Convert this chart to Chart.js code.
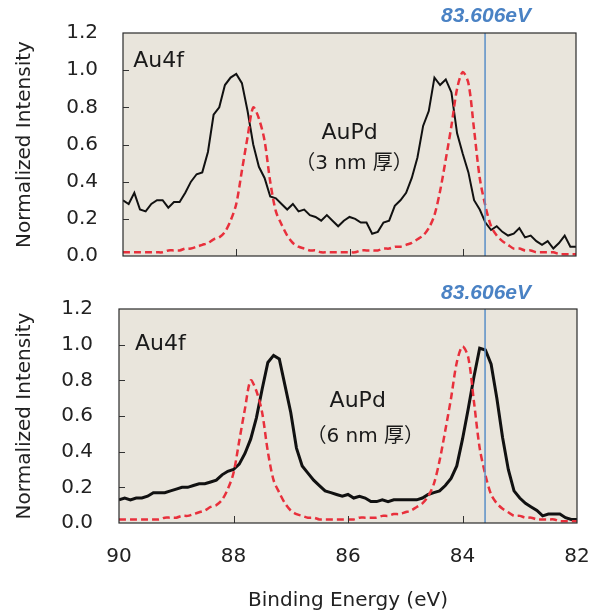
<!DOCTYPE html>
<html>
<head>
<meta charset="utf-8">
<script src="https://cdn.jsdelivr.net/npm/chart.js@4.4.1/dist/chart.umd.min.js"></script>
<style>
  body { margin: 0; background: #fff; }
  #wrap { position: relative; width: 600px; height: 615px; }
  canvas { position: absolute; left: 0; }
</style>
</head>
<body>
<div id="wrap">
  <canvas id="topChart" width="600" height="280" style="top:0"></canvas>
  <canvas id="botChart" width="600" height="335" style="top:280px"></canvas>
</div>
<script>
// binding energy (eV), one reading every 0.1 eV
const energy = [
  90.0, 89.9, 89.8, 89.7, 89.6, 89.5, 89.4, 89.3, 89.2, 89.1,
  89.0, 88.9, 88.8, 88.7, 88.6, 88.5, 88.4, 88.3, 88.2, 88.1,
  88.0, 87.9, 87.8, 87.7, 87.6, 87.5, 87.4, 87.3, 87.2, 87.1,
  87.0, 86.9, 86.8, 86.7, 86.6, 86.5, 86.4, 86.3, 86.2, 86.1,
  86.0, 85.9, 85.8, 85.7, 85.6, 85.5, 85.4, 85.3, 85.2, 85.1,
  85.0, 84.9, 84.8, 84.7, 84.6, 84.5, 84.4, 84.3, 84.2, 84.1,
  84.0, 83.9, 83.8, 83.7, 83.6, 83.5, 83.4, 83.3, 83.2, 83.1,
  83.0, 82.9, 82.8, 82.7, 82.6, 82.5, 82.4, 82.3, 82.2, 82.1,
  82.0
];

// red dashed reference spectrum (same in both panels)
const reference = [
  0.02, 0.02, 0.02, 0.02, 0.02, 0.02, 0.02, 0.02, 0.03, 0.03,
  0.03, 0.04, 0.04, 0.05, 0.06, 0.07, 0.09, 0.10, 0.13, 0.19,
  0.28, 0.46, 0.64, 0.80, 0.74, 0.62, 0.40, 0.24, 0.17, 0.11,
  0.07, 0.05, 0.04, 0.03, 0.03, 0.02, 0.02, 0.02, 0.02, 0.02,
  0.02, 0.02, 0.03, 0.03, 0.03, 0.03, 0.04, 0.04, 0.05, 0.05,
  0.06, 0.07, 0.09, 0.11, 0.15, 0.22, 0.35, 0.52, 0.70, 0.90,
  0.99, 0.93, 0.68, 0.42, 0.27, 0.16, 0.11, 0.08, 0.06, 0.04,
  0.04, 0.03, 0.03, 0.02, 0.02, 0.02, 0.02, 0.01, 0.01, 0.01,
  0.01
];

// AuPd 3 nm
const au3nm = [
  0.30, 0.28, 0.34, 0.25, 0.24, 0.28, 0.30, 0.30, 0.26, 0.29,
  0.29, 0.34, 0.40, 0.44, 0.45, 0.56, 0.76, 0.80, 0.92, 0.96,
  0.98, 0.93, 0.78, 0.60, 0.48, 0.42, 0.32, 0.31, 0.28, 0.25,
  0.28, 0.24, 0.25, 0.22, 0.21, 0.19, 0.22, 0.19, 0.16, 0.19,
  0.21, 0.20, 0.18, 0.18, 0.12, 0.13, 0.18, 0.19, 0.27, 0.30,
  0.34, 0.42, 0.53, 0.70, 0.78, 0.96, 0.92, 0.95, 0.88, 0.66,
  0.55, 0.45, 0.30, 0.25, 0.18, 0.14, 0.16, 0.13, 0.11, 0.12,
  0.15, 0.10, 0.11, 0.08, 0.06, 0.08, 0.04, 0.07, 0.11, 0.05,
  0.05
];

// AuPd 6 nm
const au6nm = [
  0.13, 0.14, 0.13, 0.14, 0.14, 0.15, 0.17, 0.17, 0.17, 0.18,
  0.19, 0.20, 0.20, 0.21, 0.22, 0.22, 0.23, 0.24, 0.27, 0.29,
  0.30, 0.33, 0.39, 0.47, 0.59, 0.75, 0.90, 0.94, 0.92, 0.77,
  0.62, 0.42, 0.32, 0.28, 0.24, 0.21, 0.18, 0.17, 0.16, 0.15,
  0.16, 0.14, 0.15, 0.14, 0.12, 0.12, 0.13, 0.12, 0.13, 0.13,
  0.13, 0.13, 0.13, 0.14, 0.16, 0.17, 0.18, 0.21, 0.25, 0.32,
  0.47, 0.64, 0.82, 0.98, 0.97, 0.89, 0.70, 0.48, 0.30, 0.18,
  0.14, 0.11, 0.09, 0.07, 0.04, 0.05, 0.05, 0.05, 0.03, 0.02,
  0.02
];

const xTicks = [90, 88, 86, 84, 82];
const yTicks = [0, 0.2, 0.4, 0.6, 0.8, 1.0, 1.2];
const peakLine = 83.606;

const FONT = "'DejaVu Sans', sans-serif";
const CJK = "'DejaVu Sans', 'Noto Sans CJK JP', sans-serif";

const decor = {
  id: 'decor',
  beforeDatasetsDraw(chart) {
    const { ctx, chartArea: a } = chart;
    ctx.save();
    ctx.fillStyle = '#e9e5dc';
    ctx.fillRect(a.left, a.top, a.right - a.left, a.bottom - a.top);
    ctx.restore();
  },
  afterDatasetsDraw(chart, args, o) {
    const { ctx, chartArea: a, scales: { x, y } } = chart;
    ctx.save();
    // inward tick marks
    ctx.strokeStyle = '#333';
    ctx.lineWidth = 1;
    ctx.beginPath();
    x.ticks.forEach(t => {
      if (t.value > x.min && t.value < x.max) {
        const px = Math.round(x.getPixelForValue(t.value)) + 0.5;
        ctx.moveTo(px, a.bottom); ctx.lineTo(px, a.bottom - 7);
      }
    });
    y.ticks.forEach(t => {
      if (t.value > y.min && t.value < y.max) {
        const py = Math.round(y.getPixelForValue(t.value)) + 0.5;
        ctx.moveTo(a.left, py); ctx.lineTo(a.left + 6, py);
      }
    });
    ctx.stroke();

    // 83.606 eV marker
    const bx = x.getPixelForValue(peakLine);
    ctx.strokeStyle = '#5a8fc8';
    ctx.lineWidth = 1.5;
    ctx.beginPath();
    ctx.moveTo(bx, a.top); ctx.lineTo(bx, a.bottom);
    ctx.stroke();

    ctx.strokeStyle = '#2a2a2a';
    ctx.lineWidth = 1.2;
    ctx.strokeRect(a.left, a.top, a.right - a.left, a.bottom - a.top);

    ctx.fillStyle = '#4a82c4';
    ctx.font = "italic bold 21px 'Liberation Sans', Arial, sans-serif";
    ctx.textAlign = 'center';
    ctx.textBaseline = 'middle';
    ctx.fillText(peakLine.toFixed(3) + 'eV', bx + 1, a.top - o.labelGap);

    ctx.fillStyle = '#1a1a1a';
    o.notes.forEach(n => {
      ctx.font = n.font;
      ctx.textAlign = n.align;
      ctx.fillText(n.text, x.getPixelForValue(n.x), y.getPixelForValue(n.y));
    });
    ctx.restore();
  }
};

// keep the plot box exactly where the layout padding puts it
function noPad(s) {
  s.paddingLeft = 0; s.paddingRight = 0; s.paddingTop = 0; s.paddingBottom = 0;
}

function makeChart(id, black, blackWidth, cfg) {
  return new Chart(document.getElementById(id), {
    type: 'line',
    data: {
      datasets: [
        {
          data: energy.map((e, i) => ({ x: e, y: reference[i] })),
          borderColor: '#e8303c', borderWidth: 2.5, borderDash: [7, 4],
          pointRadius: 0, tension: 0.3
        },
        {
          data: energy.map((e, i) => ({ x: e, y: black[i] })),
          borderColor: '#111', borderWidth: blackWidth,
          pointRadius: 0, tension: 0
        }
      ]
    },
    options: {
      responsive: false,
      animation: false,
      layout: { padding: cfg.padding },
      plugins: {
        legend: { display: false },
        tooltip: { enabled: false },
        decor: { notes: cfg.notes, labelGap: cfg.labelGap }
      },
      scales: {
        x: {
          type: 'linear', reverse: true, min: 82, max: 90,
          afterBuildTicks: s => { s.ticks = xTicks.map(v => ({ value: v })); },
          afterFit: s => { s.height = cfg.xHeight; noPad(s); },
          grid: { display: false, drawTicks: false },
          border: { display: false },
          ticks: {
            display: cfg.showX, color: '#222', padding: 22,
            font: { family: FONT, size: 20 }
          },
          title: {
            display: cfg.showX, text: 'Binding Energy (eV)', color: '#222',
            font: { family: FONT, size: 20 }, padding: { top: 0, bottom: 2 }
          }
        },
        y: {
          min: 0, max: 1.2,
          afterBuildTicks: s => { s.ticks = yTicks.map(v => ({ value: v })); },
          afterFit: s => { s.width = cfg.yWidth; noPad(s); },
          grid: { display: false, drawTicks: false },
          border: { display: false },
          ticks: {
            color: '#222', padding: cfg.yPad,
            font: { family: FONT, size: 20 },
            callback: v => v.toFixed(1)
          },
          title: {
            display: true, text: 'Normalized Intensity', color: '#222',
            font: { family: FONT, size: 20 }, padding: { top: 13, bottom: 0 }
          }
        }
      }
    },
    plugins: [decor]
  });
}

makeChart('topChart', au3nm, 2, {
  padding: { top: 33, right: 24, left: 0, bottom: 0 },
  xHeight: 24, yWidth: 123, yPad: 25, showX: false, labelGap: 17,
  notes: [
    { text: 'Au4f', x: 89.82, y: 1.05, align: 'left', font: '22px ' + FONT },
    { text: 'AuPd', x: 86.0, y: 0.66, align: 'center', font: '22px ' + FONT },
    { text: '（3 nm 厚）', x: 85.92, y: 0.495, align: 'center', font: '20px ' + CJK }
  ]
});

makeChart('botChart', au6nm, 3, {
  padding: { top: 29, right: 23, left: 0, bottom: 0 },
  xHeight: 92, yWidth: 119, yPad: 26, showX: true, labelGap: 16,
  notes: [
    { text: 'Au4f', x: 89.72, y: 1.0, align: 'left', font: '22px ' + FONT },
    { text: 'AuPd', x: 85.83, y: 0.684, align: 'center', font: '22px ' + FONT },
    { text: '（6 nm 厚）', x: 85.70, y: 0.482, align: 'center', font: '20px ' + CJK }
  ]
});
</script>
</body>
</html>
